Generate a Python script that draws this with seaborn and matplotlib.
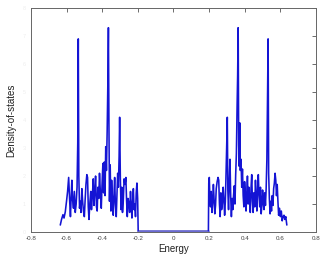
import numpy as np
import pandas as pd
import matplotlib
matplotlib.use('Agg')
import matplotlib.pyplot as plt
import seaborn as sns

sns.set_style('white')
plt.rcParams['font.family'] = ['Liberation Sans', 'DejaVu Sans']

# valence band (left) - energy / density of states
E_left = [-0.635, -0.628, -0.620, -0.614, -0.607, -0.600, -0.594, -0.588, -0.583, -0.578,
          -0.574, -0.570, -0.566, -0.561, -0.556, -0.551, -0.546, -0.541, -0.537, -0.534,
          -0.531, -0.527, -0.523, -0.519, -0.514, -0.509, -0.505, -0.500, -0.496, -0.491,
          -0.486, -0.482, -0.478, -0.474, -0.469, -0.464, -0.460, -0.455, -0.450, -0.446,
          -0.441, -0.437, -0.432, -0.428, -0.424, -0.419, -0.415, -0.410, -0.405, -0.401,
          -0.396, -0.392, -0.388, -0.384, -0.380, -0.376, -0.372, -0.368, -0.365, -0.362,
          -0.359, -0.355, -0.351, -0.347, -0.343, -0.338, -0.334, -0.330, -0.326, -0.321,
          -0.317, -0.313, -0.309, -0.305, -0.302, -0.298, -0.294, -0.290, -0.286, -0.282,
          -0.277, -0.272, -0.267, -0.263, -0.259, -0.255, -0.250, -0.246, -0.241, -0.237,
          -0.233, -0.229, -0.225, -0.221, -0.217, -0.213, -0.209, -0.205, -0.201, -0.198]
D_left = [0.25, 0.45, 0.62, 0.50, 0.72, 1.10, 1.45, 1.95, 1.20, 0.55,
          1.25, 1.85, 1.15, 0.85, 1.45, 0.70, 1.00, 1.60, 3.20, 6.90,
          2.00, 0.85, 1.10, 0.70, 1.55, 1.05, 0.75, 0.55, 1.10, 1.70,
          2.05, 1.95, 0.90, 0.45, 1.05, 1.45, 0.80, 1.30, 1.90, 0.95,
          1.50, 2.00, 0.90, 0.75, 1.60, 1.20, 2.10, 1.40, 0.85, 1.65,
          2.45, 1.40, 2.50, 1.30, 3.05, 2.20, 3.60, 5.40, 7.30, 3.80,
          1.10, 2.40, 0.75, 1.85, 1.25, 0.60, 1.30, 1.95, 1.00, 0.55,
          1.35, 2.10, 1.60, 2.70, 4.10, 1.90, 0.80, 1.60, 0.70, 1.05,
          1.90, 1.70, 1.95, 1.10, 0.55, 1.20, 1.00, 0.70, 1.45, 0.95,
          0.50, 1.10, 1.55, 0.80, 1.00, 0.55, 1.40, 1.75, 1.20, 0.05]

# conduction band (right)
E_right = [0.196, 0.198, 0.201, 0.204, 0.208, 0.212, 0.216, 0.220, 0.224, 0.228,
           0.232, 0.236, 0.240, 0.245, 0.250, 0.254, 0.258, 0.262, 0.266, 0.270,
           0.274, 0.279, 0.283, 0.287, 0.291, 0.295, 0.299, 0.302, 0.305, 0.309,
           0.313, 0.317, 0.321, 0.325, 0.329, 0.333, 0.337, 0.341, 0.345, 0.349,
           0.353, 0.357, 0.360, 0.363, 0.366, 0.369, 0.372, 0.375, 0.379, 0.383,
           0.387, 0.391, 0.395, 0.399, 0.403, 0.407, 0.411, 0.415, 0.419, 0.423,
           0.427, 0.431, 0.435, 0.439, 0.443, 0.447, 0.451, 0.456, 0.460, 0.464,
           0.468, 0.472, 0.476, 0.480, 0.484, 0.488, 0.492, 0.496, 0.500, 0.504,
           0.508, 0.512, 0.516, 0.520, 0.524, 0.528, 0.531, 0.534, 0.538, 0.542,
           0.546, 0.550, 0.554, 0.558, 0.562, 0.566, 0.570, 0.574, 0.578, 0.582,
           0.586, 0.590, 0.595, 0.600, 0.605, 0.610, 0.615, 0.620, 0.625, 0.630,
           0.636]
D_right = [0.05, 1.75, 1.95, 1.20, 0.90, 1.45, 0.70, 1.05, 1.70, 1.15,
           0.65, 0.95, 1.55, 1.80, 1.95, 1.85, 1.00, 0.55, 1.40, 0.80,
           1.00, 1.60, 1.15, 0.60, 1.10, 2.10, 3.20, 4.10, 1.50, 0.80,
           1.80, 2.60, 1.30, 0.55, 1.20, 0.80, 1.30, 1.65, 1.00, 2.05,
           2.80, 4.50, 5.60, 7.30, 3.10, 2.35, 3.90, 2.20, 2.60, 1.60,
           2.25, 1.30, 0.90, 1.80, 1.40, 0.75, 1.35, 2.00, 1.00, 1.60,
           1.20, 0.70, 1.55, 2.05, 1.10, 0.70, 1.40, 0.90, 1.85, 1.25,
           0.75, 1.55, 2.05, 1.30, 0.90, 1.60, 0.65, 0.95, 1.50, 1.05,
           0.80, 1.40, 0.95, 1.55, 2.60, 5.00, 6.90, 2.10, 1.20, 0.65,
           1.10, 0.75, 1.30, 0.95, 1.55, 1.75, 2.10, 1.85, 1.30, 1.70,
           1.10, 0.60, 0.85, 0.55, 0.75, 0.40, 0.55, 0.60, 0.45, 0.55,
           0.25]

# band gap (flat, zero states)
E_gap = [-0.198, 0.196]
D_gap = [0.05, 0.05]

fig = plt.figure(figsize=(3.32, 2.61), dpi=100)
ax = fig.add_axes([0.093, 0.111, 0.859, 0.858])

left = pd.DataFrame({'E': E_left, 'D': D_left})
right = pd.DataFrame({'E': E_right, 'D': D_right})
gap = pd.DataFrame({'E': E_gap, 'D': D_gap})

sns.lineplot(data=gap, x='E', y='D', ax=ax, color='#6b6bd0', linewidth=2.0,
             sort=False, estimator=None)
sns.lineplot(data=left, x='E', y='D', ax=ax, color='#1414d4', linewidth=1.15,
             sort=False, estimator=None)
sns.lineplot(data=right, x='E', y='D', ax=ax, color='#1414d4', linewidth=1.15,
             sort=False, estimator=None)

ax.set_xlim(-0.8, 0.8)
ax.set_ylim(0, 8)
ax.set_xticks(np.arange(-0.8, 0.81, 0.2))
ax.set_xticklabels(['-0.8', '-0.6', '-0.4', '-0.2', '0', '0.2', '0.4', '0.6', '0.8'])
ax.set_yticks(range(0, 9))
ax.tick_params(axis='x', direction='in', length=3, width=0.6, color='#555555',
               labelsize=4.5, labelcolor='#444444', top=True, pad=3)
ax.tick_params(axis='y', direction='in', length=3, width=0.6, color='#555555',
               labelsize=4, labelcolor='#eeeeee', right=True)
for s in ax.spines.values():
    s.set_color('#666666')
    s.set_linewidth(0.7)

ax.set_xlabel('Energy', fontsize=7, color='#222222', labelpad=2)
ax.set_ylabel('Density-of-states', fontsize=7, color='#222222', labelpad=5)

fig.savefig('out.png', dpi=100)
